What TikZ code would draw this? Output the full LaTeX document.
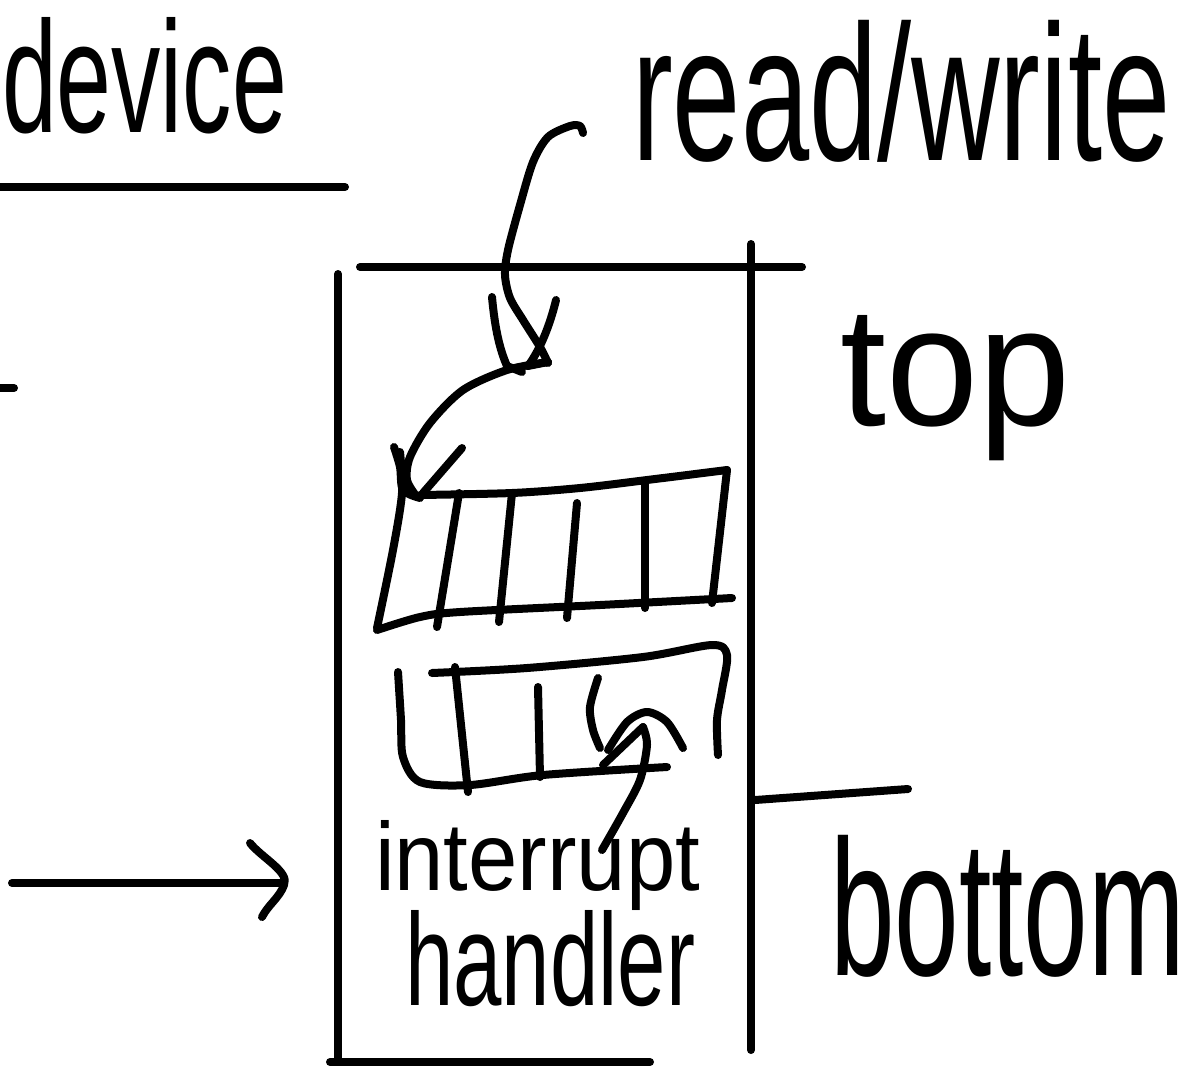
\documentclass[tikz,border=0pt]{standalone}
\usepackage{fontspec}
\setmainfont{Liberation Sans}
\usepackage{graphicx}
\begin{document}
\begin{tikzpicture}[x=1pt,y=-1pt,
  ink/.style={line width=8pt,line cap=round,line join=round},
  lbl/.style={anchor=base west,inner sep=0pt,outer sep=0pt}]
\useasboundingbox (0,0) rectangle (1193,1066);
% labels
\node[lbl] (device) at (2,132) {\resizebox{285pt}{115pt}{device}};
\node[lbl] (rw) at (632,160) {\resizebox{538pt}{140pt}{read/write}};
\node[lbl] (top) at (840,425) {\resizebox{230pt}{110pt}{top}};
\node[lbl] (bottom) at (830,975) {\resizebox{355pt}{140pt}{bottom}};
\node[lbl] (intr) at (375,890) {\resizebox{325pt}{70pt}{interrupt}};
\node[lbl] (hand) at (405,1005) {\resizebox{290pt}{95pt}{handler}};
% coordinates
\coordinate (ul1) at (0,187); \coordinate (ul2) at (345,187);
\coordinate (tk1) at (0,388); \coordinate (tk2) at (14,388);
\coordinate (bl1) at (338,274); \coordinate (bl2) at (338,1060);
\coordinate (bb1) at (330,1062); \coordinate (bb2) at (650,1062);
\coordinate (bt1) at (360,267); \coordinate (bt2) at (802,267);
\coordinate (br1) at (751,244); \coordinate (br2) at (751,1050);
\coordinate (sp1) at (755,800); \coordinate (sp2) at (908,789);
\coordinate (la1) at (12,883); \coordinate (la2) at (282,883);
% device underline, tick, box
\draw[ink] (ul1) -- (ul2);
\draw[ink] (tk1) -- (tk2);
\draw[ink] (bl1) -- (bl2);
\draw[ink] (bb1) -- (bb2);
\draw[ink] (bt1) -- (bt2);
\draw[ink] (br1) -- (br2);
\draw[ink] (sp1) -- (sp2);
% left arrow
\draw[ink] (la1) -- (la2);
\draw[ink] (250,843) .. controls (262,858) and (290,872) .. (284,885) .. controls (280,897) and (268,905) .. (262,917);
% read/write arrow
\draw[ink] plot[smooth] coordinates {(583,133) (580,126) (570,126) (548,137) (533,162) (520,205) (508,250) (505,275) (510,298) (523,320) (540,347) (548,363)};
\draw[ink] (492,297) .. controls (495,330) and (500,350) .. (507,366) -- (522,372);
\draw[ink] (556,300) .. controls (550,325) and (540,350) .. (528,366) -- (548,362);
% arrow to queue
\draw[ink] plot[smooth] coordinates {(548,362) (507,370) (463,390) (430,423) (410,457) (407,480) (417,497)};
\draw[ink] plot[smooth] coordinates {(394,447) (400,467) (403,490) (420,498)};
\draw[ink] (462,448) -- (423,493);
% queue 1
\draw[ink] plot[smooth] coordinates {(420,495) (512,493) (580,488) (647,480) (727,470)};
\draw[ink] (727,470) -- (712,603);
\draw[ink] plot[smooth] coordinates {(377,630) (420,617) (460,612) (600,605) (732,598)};
\draw[ink] plot[smooth] coordinates {(400,452) (402,493) (393,550) (377,628)};
\draw[ink] (459,493) -- (437,627);
\draw[ink] (512,493) -- (499,622);
\draw[ink] (577,503) -- (567,618);
\draw[ink] (645,483) -- (645,608);
% queue 2
\draw[ink] plot[smooth] coordinates {(398,672) (401,720) (403,757) (420,782) (470,785) (543,775) (667,767)};
\draw[ink] plot[smooth] coordinates {(432,673) (527,668) (643,657) (712,645) (727,655) (722,690) (717,720) (718,755)};
\draw[ink] (455,667) -- (468,792);
\draw[ink] (538,687) -- (540,777);
\draw[ink] plot[smooth] coordinates {(598,678) (590,707) (593,730) (600,748)};
% interrupt handler arrow
\draw[ink] plot[smooth] coordinates {(608,750) (627,722) (647,712) (667,722) (683,748)};
\draw[ink] (603,765) -- (643,727);
\draw[ink] plot[smooth] coordinates {(643,727) (647,745) (640,780) (623,813) (602,850)};
\end{tikzpicture}
\end{document}
